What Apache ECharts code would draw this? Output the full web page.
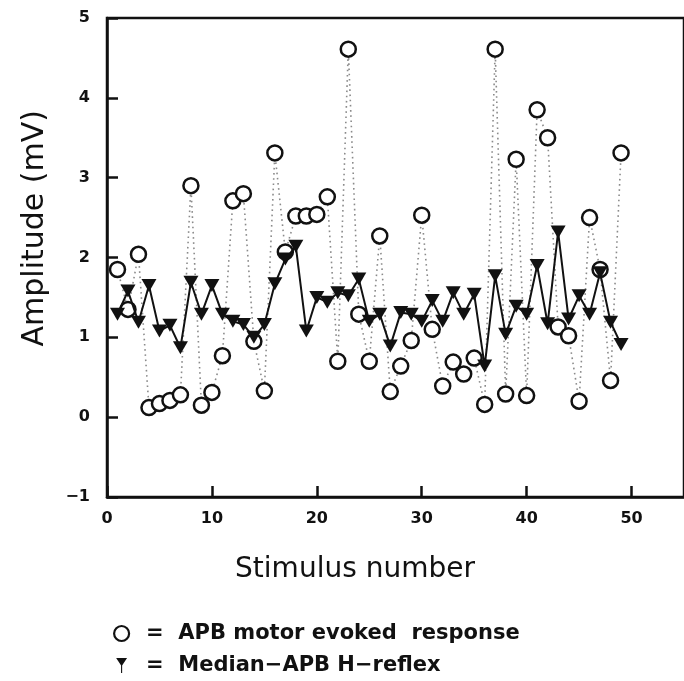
<!DOCTYPE html>
<html>
<head>
<meta charset="utf-8">
<script src="https://cdn.jsdelivr.net/npm/echarts@6/dist/echarts.min.js"></script>
<style>
html,body{margin:0;padding:0;background:#fff;overflow:hidden;}
#chart{width:684px;height:681px;}
</style>
</head>
<body>
<div id="chart"></div>
<script>
// Stimulus numbers
const stimuli = [1,2,3,4,5,6,7,8,9,10,11,12,13,14,15,16,17,18,19,20,21,22,23,24,25,26,27,28,29,30,31,32,33,34,35,36,37,38,39,40,41,42,43,44,45,46,47,48,49];
// APB motor evoked response (mV) - open circles
const apbMotor = [1.85,1.35,2.04,0.12,0.17,0.21,0.28,2.90,0.15,0.31,0.77,2.71,2.80,0.95,0.33,3.31,2.07,2.52,2.52,2.54,2.76,0.70,4.61,1.29,0.70,2.27,0.32,0.64,0.96,2.53,1.10,0.39,0.69,0.54,0.74,0.16,4.61,0.29,3.23,0.27,3.85,3.50,1.13,1.02,0.20,2.50,1.85,0.46,3.31];
// Median-APB H-reflex (mV) - filled triangles
const hReflex = [1.29,1.58,1.19,1.65,1.08,1.15,0.87,1.69,1.29,1.65,1.29,1.20,1.16,1.00,1.16,1.67,1.98,2.14,1.08,1.50,1.44,1.56,1.52,1.73,1.20,1.29,0.89,1.31,1.29,1.20,1.46,1.20,1.56,1.29,1.54,0.64,1.77,1.04,1.39,1.29,1.90,1.17,2.32,1.23,1.52,1.29,1.81,1.19,0.91];
// Axis ticks
const xTicks = {min: 0, max: 55, interval: 10};
const yTicks = {min: -1, max: 5, interval: 1};
const seriesNames = ['APB motor evoked response', 'Median-APB H-reflex'];
const legendLabels = {'APB motor evoked response': '=  APB motor evoked  response', 'Median-APB H-reflex': '=  Median\u2212APB H\u2212reflex'};

const ink = '#111';
const chart = echarts.init(document.getElementById('chart'), null, {renderer: 'canvas'});
const option = {
  backgroundColor: '#fff',
  animation: false,
  grid: {left: 107, top: 18, right: -6, bottom: 184, show: true, borderColor: ink, borderWidth: 2.5, backgroundColor: 'transparent'},
  xAxis: {
    type: 'value', min: xTicks.min, max: xTicks.max, interval: xTicks.interval,
    axisLine: {show: true, onZero: false, lineStyle: {color: ink, width: 2.5}},
    axisTick: {show: true, inside: true, length: 11, lineStyle: {color: ink, width: 2.5}},
    axisLabel: {color: ink, fontFamily: 'DejaVu Sans', fontWeight: 'bold', fontSize: 16, margin: 14, showMaxLabel: false},
    splitLine: {show: false}
  },
  yAxis: {
    type: 'value', min: yTicks.min, max: yTicks.max, interval: yTicks.interval,
    axisLine: {show: true, onZero: false, lineStyle: {color: ink, width: 2.5}},
    axisTick: {show: true, inside: true, length: 11, lineStyle: {color: ink, width: 2.5}},
    axisLabel: {color: ink, fontFamily: 'DejaVu Sans', fontWeight: 'bold', fontSize: 16, margin: 17,
      formatter: v => String(v).replace('-', '\u2212')},
    splitLine: {show: false}
  },
  legend: {
    orient: 'vertical', left: 108, top: 618, height: 63, itemGap: 11, itemWidth: 15, itemHeight: 15,
    symbolRotate: 0,
    selectedMode: false,
    textStyle: {color: ink, fontFamily: 'DejaVu Sans', fontWeight: 'bold', fontSize: 21, padding: [0, 0, 0, 12]},
    formatter: name => legendLabels[name],
    data: [
      {name: seriesNames[0], icon: 'circle', itemStyle: {color: '#fff', borderColor: ink, borderWidth: 2.2}},
      {name: seriesNames[1], icon: 'path://M0,0 L16,0 L8,12 Z M7.2,11 L8.8,11 L8.8,22 L7.2,22 Z', itemStyle: {color: ink, borderWidth: 0}}
    ]
  },
  graphic: [
    {type: 'text', left: 20, top: 110, rotation: Math.PI / 2, originX: 0, originY: 0,
      style: {text: 'Amplitude (mV)', fontFamily: 'DejaVu Sans', fontSize: 30, fill: ink}},
    {type: 'text', x: 355, y: 570,
      style: {text: 'Stimulus number', fontFamily: 'DejaVu Sans', fontSize: 28, fill: ink, align: 'center', verticalAlign: 'middle'}}
  ],
  series: [
    {
      name: seriesNames[0], type: 'line', z: 2,
      data: stimuli.map((s, i) => [s, apbMotor[i]]),
      symbol: 'circle', symbolSize: 15,
      itemStyle: {color: '#fff', borderColor: ink, borderWidth: 2.5},
      lineStyle: {color: '#8a8a8a', width: 1.6, type: [1.6, 3.6]},
      emphasis: {disabled: true}
    },
    {
      name: seriesNames[1], type: 'line', z: 3,
      data: stimuli.map((s, i) => [s, hReflex[i]]),
      symbol: 'triangle', symbolRotate: 180, symbolSize: [15, 13],
      itemStyle: {color: ink},
      lineStyle: {color: ink, width: 2},
      emphasis: {disabled: true}
    }
  ]
};
chart.setOption(option);
</script>
</body>
</html>
